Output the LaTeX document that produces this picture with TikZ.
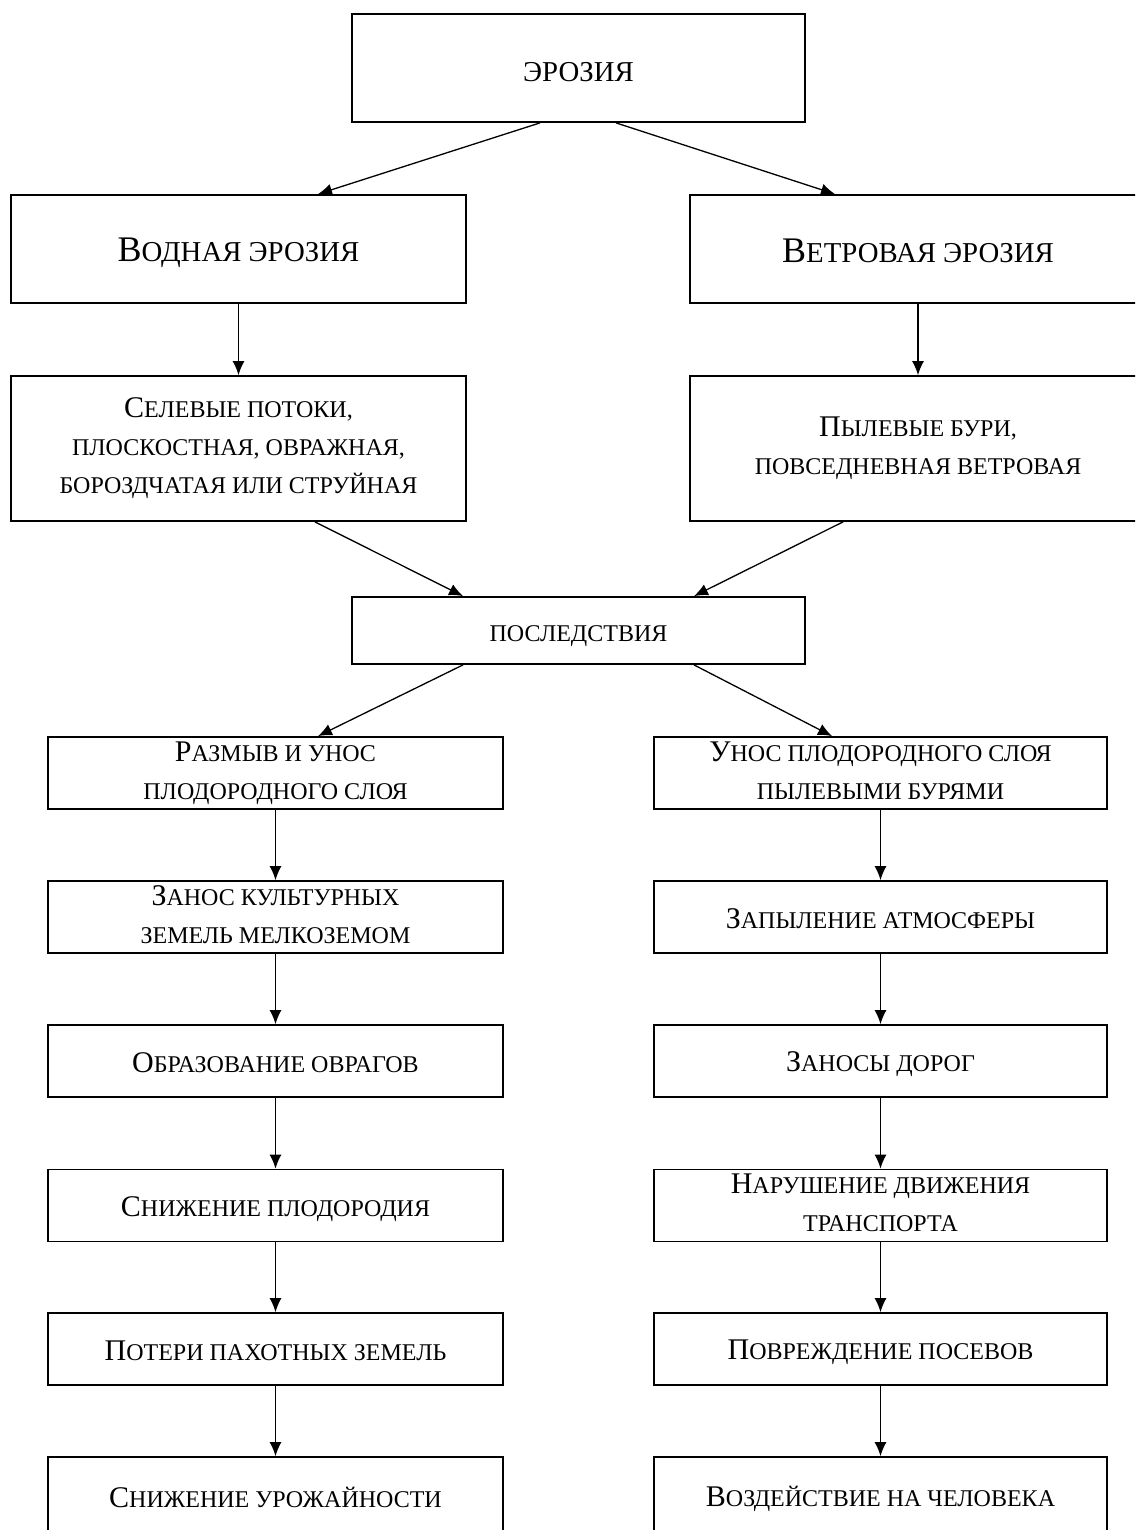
\documentclass[tikz,border=0pt]{standalone}
\usepackage{fontspec}
\setmainfont{Liberation Serif}
\usetikzlibrary{arrows.meta}
\newcommand\capA[1]{{\fontsize{15}{19}\selectfont #1}}
\newcommand\capB[1]{{\fontsize{18}{22}\selectfont #1}}
\begin{document}
\begin{tikzpicture}[x=0.5pt,y=-0.5pt,
  bx/.style={draw,line width=0.9pt,inner sep=0pt,align=center,font=\fontsize{12}{19}\selectfont,
    execute at begin node=\rule{0pt}{13.5pt}, execute at end node=\rule[-2.5pt]{0pt}{2.5pt}},
  bigbx/.style={bx,font=\fontsize{14.4}{22}\selectfont,
    execute at begin node=\rule{0pt}{16pt}, execute at end node=\rule[-2pt]{0pt}{2pt}},
  arr/.style={line width=0.65pt,-{Latex[length=7pt,width=6pt]}}]
\useasboundingbox (0,0) rectangle (1135,1530);
\clip (0,0) rectangle (1135,1530);
\node[bigbx,minimum width=226.5pt,minimum height=54pt] (er) at (578.5,68) {ЭРОЗИЯ};
\node[bigbx,minimum width=227.5pt,minimum height=54pt] (vod) at (238.5,249) {\capB{В}ОДНАЯ ЭРОЗИЯ};
\node[bigbx,minimum width=228pt,minimum height=54pt] (vet) at (918,249) {\capB{В}ЕТРОВАЯ ЭРОЗИЯ};
\node[bx,minimum width=227.5pt,minimum height=72.5pt] (sel) at (238.5,448.5) {\capA{С}ЕЛЕВЫЕ ПОТОКИ,\\ПЛОСКОСТНАЯ, ОВРАЖНАЯ,\\БОРОЗДЧАТАЯ ИЛИ СТРУЙНАЯ};
\node[bx,minimum width=228pt,minimum height=72.5pt] (pyl) at (918,448.5) {\capA{П}ЫЛЕВЫЕ БУРИ,\\ПОВСЕДНЕВНАЯ ВЕТРОВАЯ};
\node[bx,minimum width=226.5pt,minimum height=33.5pt] (pos) at (578.5,630.5) {ПОСЛЕДСТВИЯ};
% left column
\node[bx,minimum width=227.5pt,minimum height=36pt] (l1) at (275.5,773) {\capA{Р}АЗМЫВ И УНОС\\ПЛОДОРОДНОГО СЛОЯ};
\node[bx,minimum width=227.5pt,minimum height=36pt] (l2) at (275.5,917) {\capA{З}АНОС КУЛЬТУРНЫХ\\ЗЕМЕЛЬ МЕЛКОЗЕМОМ};
\node[bx,minimum width=227.5pt,minimum height=36pt] (l3) at (275.5,1061) {\capA{О}БРАЗОВАНИЕ ОВРАГОВ};
\node[bx,minimum width=227.5pt,minimum height=36pt] (l4) at (275.5,1205.5) {\capA{С}НИЖЕНИЕ ПЛОДОРОДИЯ};
\node[bx,minimum width=227.5pt,minimum height=36pt] (l5) at (275.5,1349) {\capA{П}ОТЕРИ ПАХОТНЫХ ЗЕМЕЛЬ};
\node[bx,minimum width=227.5pt,minimum height=39pt] (l6) at (275.5,1496) {\capA{С}НИЖЕНИЕ УРОЖАЙНОСТИ};
% right column
\node[bx,minimum width=226.5pt,minimum height=36pt] (r1) at (880.5,773) {\capA{У}НОС ПЛОДОРОДНОГО СЛОЯ\\ПЫЛЕВЫМИ БУРЯМИ};
\node[bx,minimum width=226.5pt,minimum height=36pt] (r2) at (880.5,917) {\capA{З}АПЫЛЕНИЕ АТМОСФЕРЫ};
\node[bx,minimum width=226.5pt,minimum height=36pt] (r3) at (880.5,1061) {\capA{З}АНОСЫ ДОРОГ};
\node[bx,minimum width=226.5pt,minimum height=36pt] (r4) at (880.5,1205.5) {\capA{Н}АРУШЕНИЕ ДВИЖЕНИЯ\\ТРАНСПОРТА};
\node[bx,minimum width=226.5pt,minimum height=36pt] (r5) at (880.5,1349) {\capA{П}ОВРЕЖДЕНИЕ ПОСЕВОВ};
\node[bx,minimum width=226.5pt,minimum height=39pt] (r6) at (880.5,1496) {\capA{В}ОЗДЕЙСТВИЕ НА ЧЕЛОВЕКА};
% arrows
\draw[arr] ([xshift=-19.25pt]er.south) -- ([xshift=39.75pt]vod.north);
\draw[arr] ([xshift=18.75pt]er.south) -- ([xshift=-41.5pt]vet.north);
\draw[arr] (vod) -- (sel);
\draw[arr] (vet) -- (pyl);
\draw[arr] ([xshift=38.25pt]sel.south) -- ([xshift=-57.75pt]pos.north);
\draw[arr] ([xshift=-37.5pt]pyl.south) -- ([xshift=57.75pt]pos.north);
\draw[arr] ([xshift=-57.75pt]pos.south) -- ([xshift=21.25pt]l1.north);
\draw[arr] ([xshift=57.75pt]pos.south) -- ([xshift=-24.25pt]r1.north);
\draw[arr] (l1) -- (l2);
\draw[arr] (l2) -- (l3);
\draw[arr] (l3) -- (l4);
\draw[arr] (l4) -- (l5);
\draw[arr] (l5) -- (l6);
\draw[arr] (r1) -- (r2);
\draw[arr] (r2) -- (r3);
\draw[arr] (r3) -- (r4);
\draw[arr] (r4) -- (r5);
\draw[arr] (r5) -- (r6);
\end{tikzpicture}
\end{document}
